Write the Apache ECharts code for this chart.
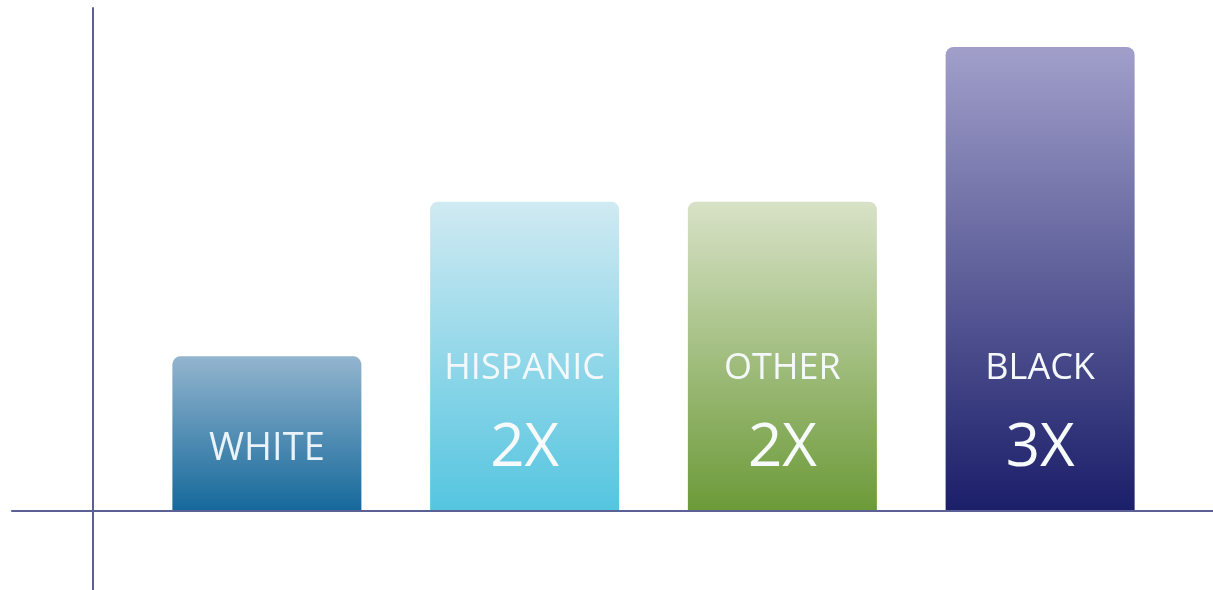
<!DOCTYPE html>
<html>
<head>
<meta charset="utf-8">
<title>Relative rate by group</title>
<script src="https://cdn.jsdelivr.net/npm/echarts@6/dist/echarts.min.js"></script>
<style>
  html, body { margin: 0; padding: 0; background: #ffffff; }
  #chart { width: 1213px; height: 590px; }
</style>
</head>
<body>
<div id="chart"></div>
<script>
// Groups, their rate relative to the baseline group, and bar colours (top -> bottom)
const categories = ['WHITE', 'HISPANIC', 'OTHER', 'BLACK'];
const values = [1, 2, 2, 3];
const topColors = ['#93b5ce', '#d0eaf2', '#d8e2c7', '#a19fca'];
const bottomColors = ['#15689b', '#55c5e0', '#6c9a38', '#1b1e69'];

const chart = echarts.init(document.getElementById('chart'), null, { renderer: 'canvas' });

const barData = values.map((v, i) => ({
  value: v,
  itemStyle: {
    color: new echarts.graphic.LinearGradient(0, 0, 0, 1, [
      { offset: 0, color: topColors[i] },
      { offset: 1, color: bottomColors[i] }
    ])
  }
}));

const axisColor = '#5d6096';

chart.setOption({
  animation: false,
  backgroundColor: '#ffffff',
  grid: [
    { left: 138, right: 44, top: 47, bottom: 79 },
    { left: 12, right: 0, top: 8, bottom: 0 }
  ],
  xAxis: [
    {
      type: 'category',
      gridIndex: 0,
      data: categories,
      axisLine: { show: false },
      axisTick: { show: false },
      axisLabel: { show: false }
    },
    {
      type: 'value',
      gridIndex: 1,
      min: 0, max: 1,
      position: 'bottom',
      offset: -79,
      z: 5,
      axisLine: { show: true, lineStyle: { color: axisColor, width: 2 } },
      axisTick: { show: false },
      axisLabel: { show: false },
      splitLine: { show: false }
    }
  ],
  yAxis: [
    {
      type: 'value',
      gridIndex: 0,
      min: 0, max: 3,
      axisLine: { show: false },
      axisTick: { show: false },
      axisLabel: { show: false },
      splitLine: { show: false }
    },
    {
      type: 'value',
      gridIndex: 1,
      min: 0, max: 1,
      position: 'left',
      offset: -81,
      z: 5,
      axisLine: { show: true, lineStyle: { color: axisColor, width: 2 } },
      axisTick: { show: false },
      axisLabel: { show: false },
      splitLine: { show: false }
    }
  ],
  series: [{
    type: 'bar',
    xAxisIndex: 0,
    yAxisIndex: 0,
    barWidth: 189,
    data: barData,
    itemStyle: { borderRadius: [8, 8, 0, 0] },
    label: {
      show: true,
      position: 'insideBottom',
      distance: 32,
      fontFamily: 'Open Sans',
      formatter: p => p.value === 1
        ? '{solo|' + p.name + '}'
        : '{name|' + p.name + '}\n{mult|' + p.value + 'X}',
      rich: {
        solo: { fontFamily: 'Open Sans', fontSize: 38, lineHeight: 60, color: '#e9f3f9' },
        name: { fontFamily: 'Open Sans', fontSize: 36, lineHeight: 100, color: '#f4f8fa' },
        mult: { fontFamily: 'Open Sans', fontSize: 60, lineHeight: 60, color: '#f7fafb' }
      }
    }
  }]
});
</script>
</body>
</html>
